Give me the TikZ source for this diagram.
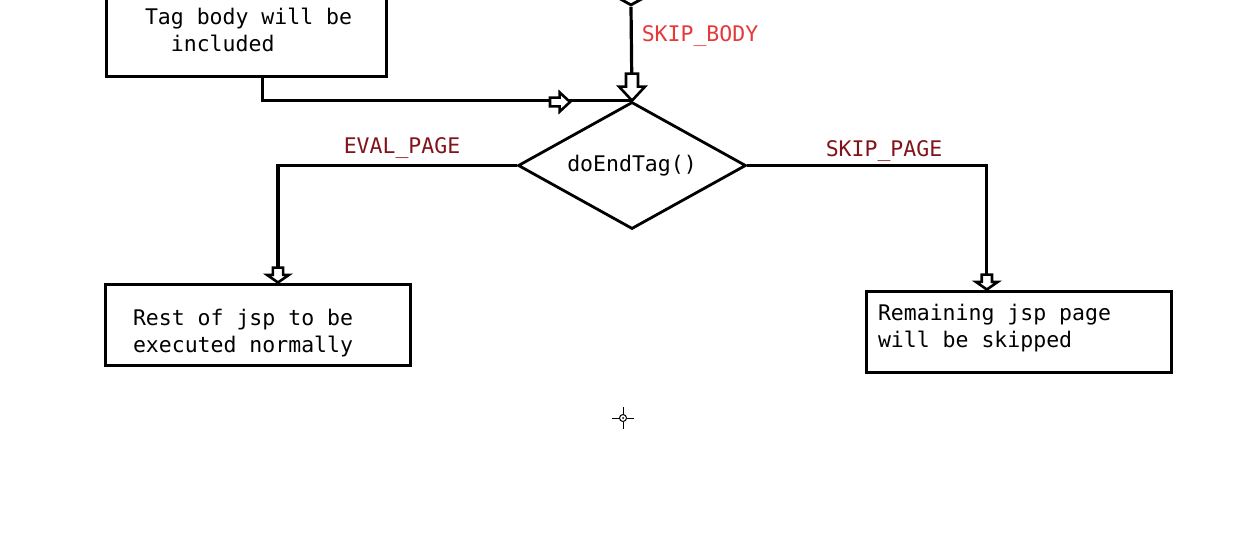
\documentclass[tikz,border=0pt]{standalone}
\usepackage{fontspec}
\setmonofont{DejaVu Sans Mono}
\usetikzlibrary{shapes.geometric}
\definecolor{skipred}{RGB}{228,58,58}
\definecolor{pagered}{RGB}{128,20,26}
\newcommand{\monofont}{\ttfamily\fontsize{21.5}{27}\selectfont}
\newcommand{\ws}{\hspace*{12.95pt}}
\tikzset{harrow/.pic={\draw[line width=2.6pt,fill=white,line join=miter]
  (0,0) -- (-13,-14) -- (-6,-14) -- (-6,-27) -- (6,-27) -- (6,-14) -- (13,-14) -- cycle;}}

\begin{document}
\begin{tikzpicture}[x=1pt,y=-1pt,
  box/.style={rectangle,draw,line width=3pt,align=left,font=\monofont},
  decision/.style={diamond,draw,line width=2.8pt,aspect=1.8,minimum width=228pt,
                   minimum height=127pt,inner sep=0pt,font=\monofont},
  conn/.style={line width=3.2pt},
  lbl/.style={font=\monofont}]
\useasboundingbox (0,0) rectangle (1234,546);

\node[box,minimum width=280pt,minimum height=86pt,text width=208pt,inner xsep=36pt] (body) at (246,33)
{\hspace*{3pt}Tag\ws body\ws will\ws be\\\hspace*{3pt}\ws\ws included\rule[-6pt]{0pt}{0pt}};
\node[decision] (bodychk) at (631,-58) {};
\node[decision] (dec) at (632,165.5) {doEndTag()};
\node[box,minimum width=305pt,minimum height=81pt,text width=249pt,inner xsep=28pt] (rest) at (257.5,324.5)
{\rule{0pt}{34pt}Rest\ws of\ws jsp\ws to\ws be\\executed\ws normally};
\node[box,minimum width=305pt,minimum height=81pt,text width=281pt,inner xsep=12pt] (remain) at (1018.5,331.5)
{Remaining\ws jsp\ws page\\will\ws be\ws skipped\rule[-11pt]{0pt}{0pt}};

\draw[conn] (bodychk.south) -- (dec.north) pic{harrow};
\draw[conn] (body.-70.5) |- (dec.north);
\pic[rotate=90,scale=.74] at (570,102) {harrow};
\draw[conn] (dec.west) -| (rest.64.3) pic[xscale=.85,yscale=.55]{harrow};
\draw[conn] (dec.east) -| (remain.127) pic[xscale=.85,yscale=.55]{harrow};

\node[lbl,text=skipred] (skipbody) at (700,36) {SKIP\_BODY};
\node[lbl,text=pagered] (evalpage) at (402,148) {EVAL\_PAGE};
\node[lbl,text=pagered] (skippage) at (884,151) {SKIP\_PAGE};

% cursor
\draw[line width=1pt] (623,418) circle (3.5);
\fill (623,418) circle (1);
\draw[line width=1pt] (623,407) -- (623,414.5) (623,421.5) -- (623,429)
  (612,418) -- (619.5,418) (626.5,418) -- (634,418);
\end{tikzpicture}
\end{document}
